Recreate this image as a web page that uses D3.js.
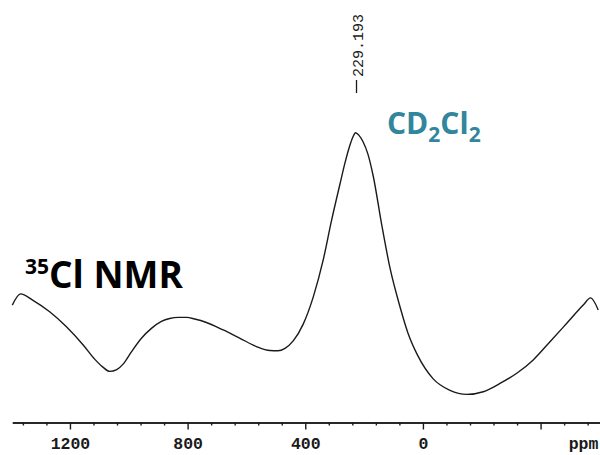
<!DOCTYPE html>
<html><head><meta charset="utf-8">
<script src="https://cdn.jsdelivr.net/npm/d3@7"></script>
<style>
html,body{margin:0;padding:0;background:#fff;}
svg{display:block;}
</style></head>
<body>
<svg id="chart" width="600" height="455"></svg>
<script>
// chemical shift (ppm) and relative intensity
const shiftPpm = [1396,1368,1327,1269,1212,1155,1116,1088,1065,1041,1017,991,957,923,889,861,832,803,776,736,679,622,566,520,493,469,441,407,373,339,311,282,265,248,238,229,218,204,187,169,140,112,78,51,17,-35,-92,-149,-205,-262,-319,-375,-432,-489,-545,-570,-596];
const intensity = [35.5,39.7,37.4,33.0,27.4,20.6,15.3,12.3,10.7,11.4,13.7,18.0,23.1,26.8,29.4,30.5,30.9,30.9,30.3,29.0,26.2,23.1,20.0,18.5,18.4,19.3,22.1,28.4,38.5,52.4,67.0,80.8,88.7,95.4,98.4,100,99.1,96.7,92.0,83.8,65.5,49.4,34.9,25.1,16.5,7.9,3.6,2.1,3.1,6.2,10.0,15.0,21.8,28.7,35.5,38.2,33.7];
const majorTicks = [1200,800,400,0,-400];
const majorLabels = ["1200","800","400","0",""];
const minorTicks = [1360,1280,1120,1040,960,880,720,640,560,480,320,240,160,80,-80,-160,-240,-320,-480,-560];
const peakLabel = "229.193";
const peakShift = 229.193;

const svg = d3.select("#chart");
const x = d3.scaleLinear().domain([1396,-602]).range([12.3,600]);
const y = d3.scaleLinear().domain([0,100]).range([400,132.7]);
const axisY = 422.5;

const data = shiftPpm.map((s,i)=>({s, v:intensity[i]}));
svg.append("path").datum(data)
  .attr("fill","none").attr("stroke","#1a1a1a").attr("stroke-width",1.4)
  .attr("stroke-linejoin","round")
  .attr("d", d3.line().x(d=>x(d.s)).y(d=>y(d.v)).curve(d3.curveMonotoneX));

// axis
const gMinor = svg.append("g").attr("transform",`translate(0,${axisY})`)
  .call(d3.axisBottom(x).tickValues(minorTicks).tickSize(3).tickSizeOuter(0).tickFormat(""));
const gMajor = svg.append("g").attr("transform",`translate(0,${axisY})`)
  .call(d3.axisBottom(x).tickValues(majorTicks).tickSize(7).tickSizeOuter(0).tickPadding(8)
    .tickFormat((d,i)=>majorLabels[i]));
[gMinor,gMajor].forEach(g=>{
  g.selectAll("path.domain").attr("stroke","#1a1a1a").attr("stroke-width",1.4);
  g.selectAll(".tick line").attr("stroke","#1a1a1a").attr("stroke-width",1.4);
});
gMajor.selectAll(".tick text")
  .attr("font-family","'Liberation Mono', monospace").attr("font-weight","bold")
  .attr("font-size",16.5).attr("fill","#1a1a1a");
svg.append("text").attr("x",583.5).attr("y",448.5).attr("text-anchor","middle")
  .attr("font-family","'Liberation Mono', monospace").attr("font-weight","bold")
  .attr("font-size",16.5).attr("fill","#1a1a1a").text("ppm");

// peak marker
const px = x(peakShift);
svg.append("line").attr("x1",px+1).attr("x2",px+1).attr("y1",80).attr("y2",93)
  .attr("stroke","#1a1a1a").attr("stroke-width",1.3);
svg.append("text").attr("transform",`translate(${px+7},77) rotate(-90)`)
  .attr("font-family","'Liberation Mono', monospace").attr("font-size",15)
  .attr("fill","#1a1a1a").text(peakLabel);

// titles
const t1 = svg.append("text").attr("x",25).attr("y",288)
  .attr("font-family","'Open Sans', sans-serif").attr("font-weight","bold").attr("fill","#000");
t1.append("tspan").attr("font-size",21).attr("dy",-14).text("35");
t1.append("tspan").attr("font-size",37).attr("dy",14).text("Cl NMR");

const t2 = svg.append("text").attr("x",387).attr("y",134)
  .attr("font-family","'Open Sans', sans-serif").attr("font-weight","bold").attr("fill","#31859C");
t2.append("tspan").attr("font-size",30).text("CD");
t2.append("tspan").attr("font-size",21).attr("dy",8).text("2");
t2.append("tspan").attr("font-size",30).attr("dy",-8).text("Cl");
t2.append("tspan").attr("font-size",21).attr("dy",8).text("2");
</script>
</body></html>
